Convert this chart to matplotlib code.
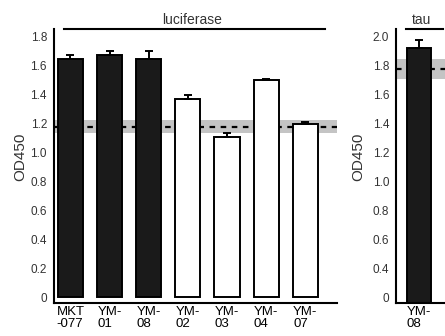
import numpy as np
import matplotlib.pyplot as plt

plt.rcParams['font.family'] = ['Liberation Sans', 'DejaVu Sans']

# luciferase panel
luc_labels = ['MKT\n-077', 'YM-\n01', 'YM-\n08', 'YM-\n02', 'YM-\n03', 'YM-\n04', 'YM-\n07']
luc_values = [1.643, 1.669, 1.643, 1.366, 1.106, 1.497, 1.193]
luc_err = [0.026, 0.028, 0.054, 0.027, 0.027, 0.010, 0.016]
luc_filled = [True, True, True, False, False, False, False]
luc_ref = 1.174
luc_band = (1.133, 1.221)

# tau panel
tau_labels = ['YM-\n08']
tau_values = [1.922]
tau_err = [0.055]
tau_ref = 1.772
tau_band = (1.705, 1.843)
tau_ticks = [0.2, 0.4, 0.6, 0.8, 1.0, 1.2, 1.4, 1.6, 1.8, 2.0]
tau_ticklabels = ['0', '0.4', '0.6', '0.8', '1.0', '1.2', '1.4', '1.6', '1.8', '2.0']

fig = plt.figure(figsize=(4.45, 3.36), dpi=100)
ax1 = fig.add_axes([0.1213, 0.0982, 0.636, 0.8155])
ax2 = fig.add_axes([0.8899, 0.0982, 0.115, 0.8155])

tick_color = '#333333'
dark = '#1a1a1a'


def style(ax):
    for s in ['top', 'right']:
        ax.spines[s].set_visible(False)
    for s in ['left', 'bottom']:
        ax.spines[s].set_linewidth(1.5)
        ax.spines[s].set_color('black')
    ax.tick_params(axis='both', length=0)
    ax.tick_params(axis='y', labelsize=8.5, labelcolor=tick_color, pad=5)
    ax.tick_params(axis='x', labelsize=9.5, pad=2.5)
    ax.set_ylabel('OD450', fontsize=11, color=tick_color)


# left panel
x = np.arange(len(luc_values))
colors = [dark if f else 'white' for f in luc_filled]
ax1.axhspan(luc_band[0], luc_band[1], color='#c4c4c4', lw=0, zorder=0)
ax1.axhline(luc_ref, color='black', lw=1.6, ls=(0, (2.5, 2.5)), zorder=1)
ax1.bar(x, luc_values, width=0.64, color=colors, edgecolor='black', linewidth=1.4, zorder=2)
ax1.errorbar(x, luc_values, yerr=[np.zeros(len(luc_err)), luc_err], fmt='none',
             ecolor='black', elinewidth=1.4, capsize=3, capthick=1.4, zorder=3)
ax1.set_xlim(-0.42, 6.81)
ax1.set_ylim(-0.04, 1.85)
ax1.set_yticks([0, 0.2, 0.4, 0.6, 0.8, 1.0, 1.2, 1.4, 1.6, 1.8])
ax1.set_yticklabels(['0', '0.2', '0.4', '0.6', '0.8', '1.0', '1.2', '1.4', '1.6', '1.8'])
ax1.set_xticks(x)
ax1.set_xticklabels(luc_labels, multialignment='left', linespacing=1.0)
style(ax1)
ax1.yaxis.set_label_coords(-0.095, 0.533)

# right panel
ax2.axhspan(tau_band[0], tau_band[1], color='#c4c4c4', lw=0, zorder=0)
ax2.axhline(tau_ref, color='black', lw=1.6, ls=(0, (2.5, 2.5)), zorder=1)
ax2.bar([0], tau_values, width=0.64, color=dark, edgecolor='black', linewidth=1.4, zorder=2)
ax2.errorbar([0], tau_values, yerr=[[0], tau_err], fmt='none',
             ecolor='black', elinewidth=1.4, capsize=3, capthick=1.4, zorder=3)
ax2.set_xlim(-0.6, 0.75)
ax2.set_ylim(0.16, 2.05)
ax2.set_yticks(tau_ticks)
ax2.set_yticklabels(tau_ticklabels)
ax2.set_xticks([0])
ax2.set_xticklabels(tau_labels, multialignment='left', linespacing=1.0)
style(ax2)
ax2.yaxis.set_label_coords(-0.6, 0.533)

# group bars with titles
y_line = 1 - 29 / 336
fig.add_artist(plt.Line2D([64 / 445, 325 / 445], [y_line, y_line], color='black', lw=1.5))
fig.text(192 / 445, 1 - 20 / 336, 'luciferase', ha='center', va='center', fontsize=10, color=tick_color)
fig.add_artist(plt.Line2D([406 / 445, 443 / 445], [y_line, y_line], color='black', lw=1.5))
fig.text(422 / 445, 1 - 20 / 336, 'tau', ha='center', va='center', fontsize=10, color=tick_color)

fig.savefig('out.png', dpi=100)
